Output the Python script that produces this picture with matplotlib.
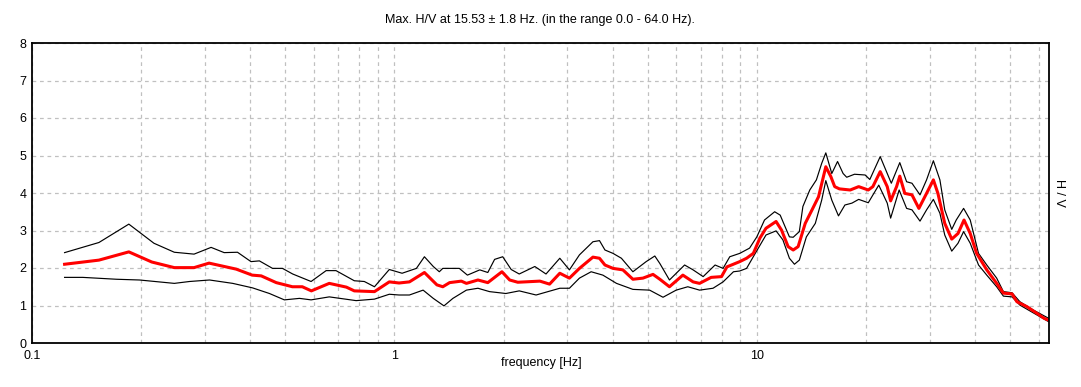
import numpy as np
import matplotlib
matplotlib.use('Agg')
import matplotlib.pyplot as plt
from matplotlib.ticker import FixedLocator, FixedFormatter, NullFormatter

plt.rcParams['font.family'] = ['Liberation Sans', 'DejaVu Sans']

# mean H/V curve
f_mean = [0.123, 0.153, 0.185, 0.214, 0.247, 0.280, 0.308, 0.366, 0.405, 0.429,
          0.472, 0.523, 0.557, 0.590, 0.661, 0.737, 0.775, 0.881, 0.968, 1.03,
          1.10, 1.21, 1.31, 1.36, 1.42, 1.53, 1.58, 1.70, 1.81, 1.98,
          2.08, 2.19, 2.52, 2.68, 2.86, 3.04, 3.24, 3.53, 3.68, 3.81,
          4.01, 4.27, 4.55, 4.85, 5.17, 5.40, 5.74, 6.25, 6.67, 6.95,
          7.48, 7.99, 8.27, 8.97, 9.37, 9.78, 10.2, 10.6, 11.3, 11.7,
          12.2, 12.6, 13.0, 13.6, 14.2, 14.8, 15.5, 16.0, 16.4, 16.9,
          18.1, 19.1, 20.3, 20.9, 21.9, 22.9, 23.4, 24.3, 24.8, 25.6,
          26.8, 28.0, 29.4, 30.7, 31.6, 33.0, 34.5, 35.9, 37.3, 38.8,
          40.4, 43.1, 45.9, 47.9, 50.6, 52.2, 55.6, 59.3, 62.0, 63.8]
hv_mean = [2.10, 2.21, 2.43, 2.16, 2.01, 2.01, 2.13, 1.97, 1.81, 1.79,
           1.61, 1.50, 1.50, 1.39, 1.59, 1.49, 1.39, 1.37, 1.63, 1.60,
           1.63, 1.88, 1.55, 1.50, 1.61, 1.65, 1.59, 1.68, 1.61, 1.90,
           1.68, 1.62, 1.65, 1.57, 1.86, 1.73, 1.99, 2.29, 2.26, 2.08,
           1.99, 1.95, 1.70, 1.73, 1.83, 1.70, 1.50, 1.81, 1.63, 1.59,
           1.75, 1.77, 2.03, 2.17, 2.26, 2.39, 2.80, 3.06, 3.24, 3.01,
           2.57, 2.48, 2.57, 3.19, 3.55, 3.90, 4.70, 4.44, 4.17, 4.11,
           4.08, 4.17, 4.08, 4.17, 4.57, 4.17, 3.79, 4.17, 4.45, 3.99,
           3.95, 3.59, 3.99, 4.35, 3.99, 3.19, 2.77, 2.92, 3.28, 2.92,
           2.39, 1.95, 1.59, 1.33, 1.31, 1.10, 0.97, 0.79, 0.66, 0.61]

# mean + std
f_upper = [0.123, 0.153, 0.185, 0.217, 0.247, 0.280, 0.312, 0.339, 0.369, 0.402,
           0.424, 0.461, 0.491, 0.524, 0.589, 0.648, 0.690, 0.775, 0.826, 0.881,
           0.968, 1.05, 1.15, 1.21, 1.28, 1.33, 1.36, 1.51, 1.59, 1.72,
           1.81, 1.89, 1.99, 2.10, 2.21, 2.44, 2.62, 2.86, 3.04, 3.24,
           3.53, 3.68, 3.81, 4.01, 4.23, 4.55, 4.95, 5.23, 5.40, 5.74,
           6.32, 6.67, 7.11, 7.67, 8.07, 8.42, 8.97, 9.55, 10.0, 10.5,
           11.2, 11.6, 12.3, 12.6, 13.1, 13.4, 14.0, 14.6, 15.1, 15.5,
           16.1, 16.7, 17.3, 17.7, 18.6, 19.9, 20.5, 21.9, 23.5, 24.8,
           25.9, 26.8, 28.2, 29.4, 30.7, 32.0, 33.0, 34.5, 35.5, 37.2,
           38.8, 40.9, 43.1, 45.9, 47.9, 50.6, 53.2, 57.9, 63.8]
hv_upper = [2.41, 2.68, 3.17, 2.66, 2.42, 2.37, 2.55, 2.41, 2.42, 2.17,
            2.19, 1.99, 1.99, 1.84, 1.64, 1.93, 1.93, 1.66, 1.64, 1.50,
            1.96, 1.86, 1.99, 2.30, 2.04, 1.90, 1.99, 1.99, 1.81, 1.95,
            1.88, 2.23, 2.30, 1.96, 1.84, 2.04, 1.84, 2.26, 1.95, 2.35,
            2.70, 2.73, 2.48, 2.39, 2.26, 1.90, 2.17, 2.32, 2.12, 1.68,
            2.08, 1.95, 1.77, 2.08, 1.99, 2.30, 2.39, 2.53, 2.83, 3.28,
            3.50, 3.41, 2.83, 2.82, 2.97, 3.64, 4.08, 4.35, 4.79, 5.07,
            4.52, 4.84, 4.52, 4.42, 4.50, 4.48, 4.36, 4.97, 4.26, 4.81,
            4.30, 4.26, 3.95, 4.35, 4.86, 4.35, 3.55, 3.03, 3.28, 3.59,
            3.28, 2.39, 2.08, 1.73, 1.37, 1.34, 1.10, 0.88, 0.66]

# mean - std
f_lower = [0.123, 0.138, 0.171, 0.198, 0.247, 0.272, 0.309, 0.358, 0.406, 0.452,
           0.497, 0.547, 0.589, 0.661, 0.784, 0.881, 0.968, 1.03, 1.10, 1.20,
           1.28, 1.37, 1.45, 1.58, 1.70, 1.83, 2.03, 2.21, 2.46, 2.86,
           3.04, 3.24, 3.49, 3.76, 4.10, 4.55, 5.06, 5.51, 5.99, 6.45,
           6.95, 7.57, 8.07, 8.62, 8.97, 9.37, 9.9, 10.6, 11.3, 11.8,
           12.3, 12.7, 13.1, 13.7, 14.5, 15.1, 15.5, 16.1, 16.8, 17.5,
           18.3, 19.1, 20.3, 21.7, 22.9, 23.4, 24.7, 25.9, 26.8, 28.2,
           29.4, 30.7, 32.0, 33.0, 34.5, 35.9, 37.2, 38.8, 40.9, 43.1,
           45.9, 47.9, 50.6, 53.2, 63.8]
hv_lower = [1.75, 1.75, 1.70, 1.68, 1.59, 1.64, 1.68, 1.59, 1.47, 1.32,
            1.15, 1.19, 1.15, 1.23, 1.13, 1.17, 1.30, 1.28, 1.28, 1.41,
            1.19, 0.99, 1.19, 1.41, 1.46, 1.37, 1.32, 1.39, 1.28, 1.46,
            1.46, 1.73, 1.90, 1.81, 1.59, 1.43, 1.41, 1.22, 1.41, 1.50,
            1.41, 1.46, 1.63, 1.90, 1.92, 1.99, 2.39, 2.88, 2.99, 2.75,
            2.26, 2.10, 2.21, 2.83, 3.19, 3.81, 4.33, 3.81, 3.39, 3.68,
            3.73, 3.83, 3.74, 4.21, 3.73, 3.33, 4.08, 3.59, 3.55, 3.25,
            3.55, 3.83, 3.46, 2.88, 2.45, 2.66, 2.97, 2.66, 2.08, 1.81,
            1.50, 1.25, 1.23, 1.01, 0.57]

title = 'Max. H/V at 15.53 \u00b1 1.8 Hz. (in the range 0.0 - 64.0 Hz).'

fig = plt.figure(figsize=(10.81, 3.87), dpi=100)
ax = fig.add_axes([32/1081, 44/387, 1017/1081, 300/387])

ax.plot(f_upper, hv_upper, color='black', lw=0.85)
ax.plot(f_lower, hv_lower, color='black', lw=0.85)
ax.plot(f_mean, hv_mean, color='#ff0000', lw=2.2)

ax.set_xscale('log')
ax.set_xlim(0.1, 64)
ax.set_ylim(0, 8)

ax.xaxis.set_major_locator(FixedLocator([0.1, 1, 10]))
ax.xaxis.set_major_formatter(FixedFormatter(['0.1', '1', '10']))
minor = [m * d for d in (0.1, 1, 10) for m in range(2, 10) if m * d < 64]
ax.xaxis.set_minor_locator(FixedLocator(minor))
ax.xaxis.set_minor_formatter(NullFormatter())
ax.set_yticks(range(0, 9))

ax.grid(True, which='both', axis='x', color='#c0c0c0', ls=(0, (3, 3)), lw=0.9)
ax.grid(True, which='major', axis='y', color='#c0c0c0', ls=(0, (3, 3)), lw=0.9)
ax.set_axisbelow(True)

ax.tick_params(which='both', length=0, labelsize=9, colors='black')
ax.tick_params(axis='x', pad=5)
ax.tick_params(axis='y', pad=4)
for s in ax.spines.values():
    s.set_color('black')
    s.set_linewidth(1.3)

fig.text(540/1081, 1 - 20/387, title, ha='center', va='center', fontsize=9)
fig.text(541/1081, 1 - 363/387, 'frequency [Hz]', ha='center', va='center', fontsize=9)
fig.text(1059/1081, 1 - 193/387, 'H / V', ha='center', va='center', fontsize=9, rotation=270)

fig.savefig('out.png', dpi=100, facecolor='white')
